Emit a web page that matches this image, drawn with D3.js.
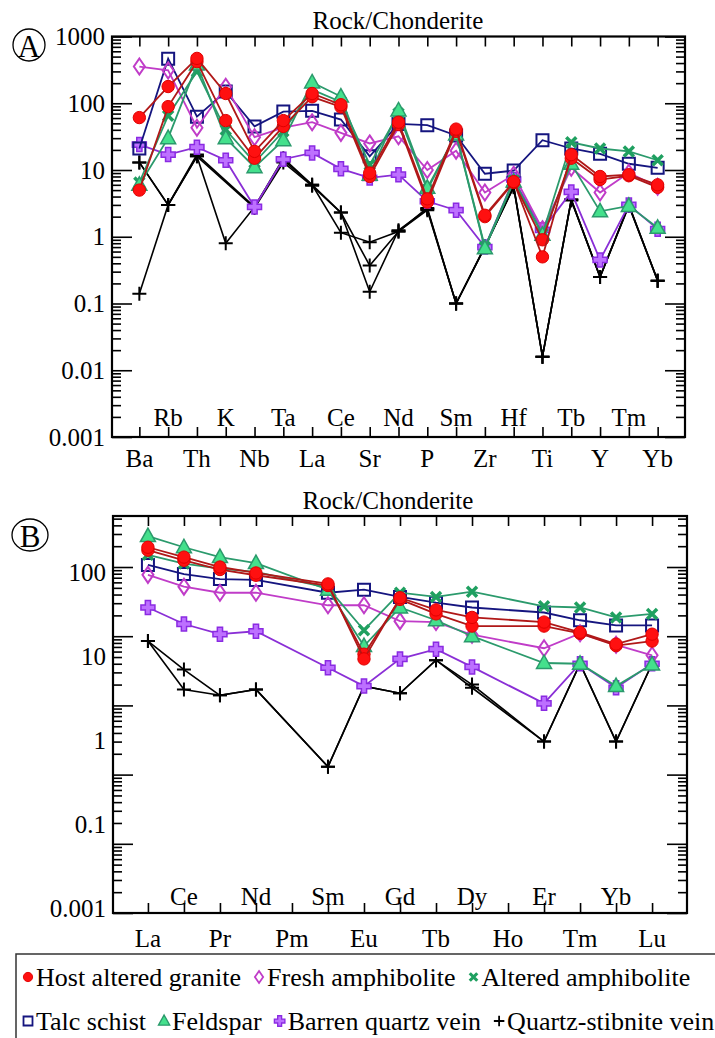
<!DOCTYPE html>
<html>
<head>
<meta charset="utf-8">
<script src="https://cdn.jsdelivr.net/npm/d3@7"></script>
<style>
  body { margin: 0; background: #fff; }
  svg, svg text { font-family: "Liberation Serif", "Times New Roman", Times, "Nimbus Roman", "DejaVu Serif", serif !important; }
</style>
</head>
<body>
<svg id="chart" width="715" height="1038" font-family="Liberation Serif, Times New Roman, serif"></svg>
<script>
// ---- categories -------------------------------------------------------
const elementsA = ["Ba","Rb","Th","K","Nb","Ta","La","Ce","Sr","Nd","P","Sm","Zr","Hf","Ti","Tb","Y","Tm","Yb"];
const elementsB = ["La","Ce","Pr","Nd","Pm","Sm","Eu","Gd","Tb","Dy","Ho","Er","Tm","Yb","Lu"];

const seriesNames = ["Host altered granite","Fresh amphibolite","Altered amphibolite",
                     "Talc schist","Feldspar","Barren quartz vein","Quartz-stibnite vein"];

// ---- tick labels ------------------------------------------------------
const yTickLabelsA = ["1000","100","10","1","0.1","0.01","0.001"];
const yTickLabelsB = ["100","10","1","0.1","0.001"];
const panelTitle = "Rock/Chonderite";

// ---- multi-element (spider) values, normalised to chondrite -----------
const hostGraniteA1 = [61, 178, 470, 140, 19, 55, 140, 95, 9, 52, 3.7, 41, 2.1, 6.7, 0.5, 17, 8, 8.5, 6];
const hostGraniteA2 = [5, 89, 420, 55, 15, 45, 125, 88, 8, 48, 3.3, 38, 2.0, 6.5, 0.9, 15, 7.2, 8.2, 5.5];
const freshAmphA    = [355, 310, 43, 177, 31, 43, 52, 36, 25, 32, 10, 19.5, 4.6, 8.5, 1.3, 10.8, 4.6, 9.1, 5.6];
const alteredAmphA  = [6.5, 65, 300, 40, 13, 38, 160, 105, 12, 70, 5, 35, 0.7, 7, 1.1, 26, 21, 19, 14];
const talcSchistA   = [21, 466, 63, 150, 45, 75, 77, 57, 16, 49, 47, 33, 8.8, 9.8, 28, 21, 17.5, 12.4, 10.8];
const feldsparA     = [6, 30, 380, 30, 11, 28, 205, 126, 8.5, 78, 5.4, 34, 0.67, 6.7, 1.07, 12.4, 2.4, 2.9, 1.36];
const barrenVeinA   = [24, 17, 22, 14, 2.8, 14.5, 18, 10.4, 7.6, 8.5, 3.4, 2.5, 0.7, 7.2, 1.27, 4.7, 0.45, 3, 1.3];
const stibniteA1    = [13, 3, 16, 0.8, 2.8, 15, 6, 1.15, 0.83, 1.2, 2.7, 0.1, 0.7, 5.6, 0.016, 3.6, 0.25, 3, 0.22];
const stibniteA2    = [0.14, 3, 17, null, 2.8, 14, 6, 2.3, 0.37, 1.2, 2.5, 0.1, 0.7, 5.8, 0.016, 3.5, 0.25, 2.9, 0.22];
const stibniteA3    = [13, 3, 16, null, 2.7, 13, 5.8, 2.3, 0.15, 1.25, 2.6, 0.1, 0.72, 5.5, 0.016, 3.6, 0.25, 3, 0.22];

// ---- REE values, normalised to chondrite (Pm, Ho not analysed) -------
const hostGraniteB1 = [193, 139, 100, 82, null, 57, 4.7, 36, 24, 18.7, null, 16, 11.4, 7.7, 10.7];
const hostGraniteB2 = [175, 125, 92, 76, null, 54, 5.5, 34, 21, 14, null, 14, 11, 7.3, 8.5];
const freshAmphB    = [77, 52, 42.5, 42.5, null, 28, 28, 16.5, 16, 10.5, null, 6.7, 11, 7.5, 5.3];
const alteredAmphB  = [150, 112, 95, 85, null, 50, 12.2, 42.5, 37, 44, null, 27, 26, 18.7, 21];
const talcSchistB   = [107, 79, 67, 65, null, 42.5, 47, 37, 30.5, 26, null, 22, 17, 14.3, 14.3];
const feldsparB     = [280, 193, 139, 114, null, 47, 7.2, 26, 17, 10, null, 4.1, 4, 1.9, 3.9];
const barrenVeinB   = [26, 15, 10.7, 11.8, null, 3.5, 1.9, 4.7, 6.5, 3.6, null, 1.07, 4, 1.8, 4];
const stibniteB1    = [8.5, 3.3, 1.4, 1.7, null, 0.13, 1.9, 1.5, 4.5, 2.0, null, 0.3, 4, 0.3, 4];
const stibniteB2    = [8.5, 1.7, 1.4, 1.7, null, 0.13, 1.9, 1.5, 4.5, 1.8, null, 0.3, 4, 0.3, 4];

// ---- sample lists (drawing order: first is underneath) ---------------
const samplesA = [
  { series: 6, values: stibniteA1 }, { series: 6, values: stibniteA2 }, { series: 6, values: stibniteA3 },
  { series: 5, values: barrenVeinA }, { series: 3, values: talcSchistA }, { series: 1, values: freshAmphA },
  { series: 2, values: alteredAmphA }, { series: 4, values: feldsparA },
  { series: 0, values: hostGraniteA2 }, { series: 0, values: hostGraniteA1 }
];
const samplesB = [
  { series: 6, values: stibniteB1 }, { series: 6, values: stibniteB2 },
  { series: 5, values: barrenVeinB }, { series: 3, values: talcSchistB }, { series: 1, values: freshAmphB },
  { series: 2, values: alteredAmphB }, { series: 4, values: feldsparB },
  { series: 0, values: hostGraniteB2 }, { series: 0, values: hostGraniteB1 }
];

// ---- symbol styles per rock type --------------------------------------
const styles = [
  { line: "#b01818", shape: "circle",   fill: "#ff1010", stroke: "#e00000", sw: 1 },
  { line: "#c03cc8", shape: "diamond",  fill: "none",    stroke: "#c03cc8", sw: 2 },
  { line: "#2b9a6c", shape: "x",        fill: "none",    stroke: "#1fa060", sw: 3.5 },
  { line: "#15157f", shape: "square",   fill: "none",    stroke: "#15157f", sw: 2 },
  { line: "#2b9a6c", shape: "triangle", fill: "#44e08c", stroke: "#2b9a6c", sw: 1.5 },
  { line: "#8a2fd6", shape: "cross",    fill: "#bd70ff", stroke: "#8a2be2", sw: 1.5 },
  { line: "#000000", shape: "plus",     fill: "none",    stroke: "#000000", sw: 2 }
];

const FONT = "Liberation Serif, Times New Roman, serif";

function markerPath(shape, k) {
  const s = v => (v * k).toFixed(2);
  switch (shape) {
    case "circle":   return d3.symbol(d3.symbolCircle, 120 * k * k)();
    case "square":   return `M${s(-6)},${s(-6)}H${s(6)}V${s(6)}H${s(-6)}Z`;
    case "diamond":  return `M0,${s(-8)}L${s(5.5)},0L0,${s(8)}L${s(-5.5)},0Z`;
    case "triangle": return `M0,${s(-8)}L${s(7.5)},${s(5.5)}L${s(-7.5)},${s(5.5)}Z`;
    case "x":        return `M${s(-5)},${s(-5)}L${s(5)},${s(5)}M${s(5)},${s(-5)}L${s(-5)},${s(5)}`;
    case "cross":    return `M${s(-2.6)},${s(-7)}H${s(2.6)}V${s(-2.6)}H${s(7)}V${s(2.6)}H${s(2.6)}V${s(7)}H${s(-2.6)}V${s(2.6)}H${s(-7)}V${s(-2.6)}H${s(-2.6)}Z`;
    case "plus":     return `M${s(-7)},0H${s(7)}M0,${s(-7)}V${s(7)}`;
  }
}

const svg = d3.select("#chart");
svg.append("rect").attr("width", 715).attr("height", 1038).attr("fill", "#fff");

function decadeTicks(lo, hi) {
  const major = [], minor = [];
  for (let e = -3; e <= 3; e++) {
    const base = Math.pow(10, e);
    if (base >= lo * 0.999 && base <= hi * 1.001) major.push(base);
    for (let m = 2; m <= 9; m++) {
      const v = m * base;
      if (v > lo && v < hi) minor.push(v);
    }
  }
  return { major, minor };
}

function drawPanel(cfg) {
  const g = svg.append("g");
  const x = d3.scalePoint().domain(cfg.elements).range([cfg.left, cfg.right]).padding(cfg.pad);
  const y = d3.scaleLog().domain(cfg.yDomain).range([cfg.bottom, cfg.top]);
  const { major, minor } = decadeTicks(cfg.yDomain[0], cfg.yDomain[1]);
  const H = cfg.bottom - cfg.top, W = cfg.right - cfg.left;

  const tidy = sel => sel.call(a => a.select(".domain").remove())
                        .call(a => a.selectAll("line").attr("stroke", "#000").attr("stroke-width", 1.6));

  // left / right axes, ticks pointing inward
  g.append("g").attr("transform", `translate(${cfg.left},0)`)
    .call(d3.axisLeft(y).tickValues(minor).tickSize(-9).tickFormat("")).call(tidy);
  g.append("g").attr("transform", `translate(${cfg.left},0)`)
    .call(d3.axisLeft(y).tickValues(major).tickSize(-20).tickFormat("")).call(tidy);
  g.append("g").attr("transform", `translate(${cfg.right},0)`)
    .call(d3.axisRight(y).tickValues(minor).tickSize(-9).tickFormat("")).call(tidy);
  g.append("g").attr("transform", `translate(${cfg.right},0)`)
    .call(d3.axisRight(y).tickValues(major).tickSize(-20).tickFormat("")).call(tidy);

  // top / bottom ticks at every element
  g.append("g").attr("transform", `translate(0,${cfg.top})`)
    .call(d3.axisTop(x).tickSize(-10).tickFormat("")).call(tidy);
  g.append("g").attr("transform", `translate(0,${cfg.bottom})`)
    .call(d3.axisBottom(x).tickSize(-10).tickFormat("")).call(tidy);

  // y-axis labels
  const yl = g.append("g").attr("transform", `translate(${cfg.left},0)`);
  if (cfg.labelScale) {
    yl.call(d3.axisLeft(cfg.labelScale).tickSize(0).tickPadding(cfg.labelPad));
  } else {
    yl.call(d3.axisLeft(y).tickValues(cfg.yLabels.map(Number)).tickSize(0).tickPadding(cfg.labelPad)
              .tickFormat((d, i) => cfg.yLabels[i]));
  }
  yl.attr("font-family", FONT).attr("font-size", 25);
  yl.select(".domain").remove();
  yl.selectAll("text").attr("font-size", 25).attr("font-family", FONT).attr("fill", "#000");

  // element labels, alternating inside / below the frame
  g.append("g").attr("font-family", FONT).selectAll("text").data(cfg.elements).join("text")
    .attr("x", d => x(d))
    .attr("y", (d, i) => i % 2 === 0 ? cfg.bottom + cfg.below : cfg.bottom - cfg.inside)
    .attr("text-anchor", "middle").attr("dominant-baseline", "central")
    .attr("font-size", 25).text(d => d);

  // title and panel letter
  g.append("text").attr("x", cfg.titleX).attr("y", cfg.titleY).attr("font-family", FONT)
    .attr("text-anchor", "middle").attr("dominant-baseline", "central")
    .attr("font-size", 25).text(panelTitle);
  g.append("ellipse").attr("cx", cfg.letterX).attr("cy", cfg.letterY)
    .attr("rx", cfg.letterRx).attr("ry", cfg.letterRy)
    .attr("fill", "none").attr("stroke", "#000").attr("stroke-width", 1.3);
  g.append("text").attr("x", cfg.letterX).attr("y", cfg.letterY + 1).attr("font-family", FONT)
    .attr("text-anchor", "middle").attr("dominant-baseline", "central")
    .attr("font-size", 31).text(cfg.letter);

  // data
  const plot = g.append("g");
  const line = d3.line().x(d => x(d.el)).y(d => y(d.v));
  cfg.samples.forEach(s => {
    const st = styles[s.series];
    const pts = cfg.elements.map((el, i) => ({ el, v: s.values[i] })).filter(d => d.v != null);
    plot.append("path").attr("d", line(pts)).attr("fill", "none")
      .attr("stroke", st.line).attr("stroke-width", s.series === 6 ? 1.6 : 1.8);
    plot.append("g").selectAll("path").data(pts).join("path")
      .attr("transform", d => `translate(${x(d.el)},${y(d.v)})`)
      .attr("d", markerPath(st.shape, 1))
      .attr("fill", st.fill).attr("stroke", st.stroke).attr("stroke-width", st.sw);
  });

  // frame
  g.append("rect").attr("x", cfg.left).attr("y", cfg.top).attr("width", W).attr("height", H)
    .attr("fill", "none").attr("stroke", "#000").attr("stroke-width", 2.2);
}

drawPanel({
  elements: elementsA, samples: samplesA, yDomain: [0.001, 1000], yLabels: yTickLabelsA,
  left: 112, right: 685, top: 36.5, bottom: 437, pad: 0.95, labelPad: 7,
  inside: 20, below: 21, titleX: 398, titleY: 20,
  letter: "A", letterX: 29, letterY: 45, letterRx: 16, letterRy: 16
});

drawPanel({
  elements: elementsB, samples: samplesB, yDomain: [0.001, 546],
  labelScale: d3.scalePoint().domain(yTickLabelsB).range([572, 908]),
  left: 113, right: 687, top: 516, bottom: 913, pad: 0.97, labelPad: 7,
  inside: 17, below: 25, titleX: 388, titleY: 500,
  letter: "B", letterX: 30, letterY: 535, letterRx: 18, letterRy: 16
});

// ---- legend -----------------------------------------------------------
const legend = svg.append("g").attr("font-family", FONT);
legend.append("rect").attr("x", 16).attr("y", 954).attr("width", 720).attr("height", 120)
  .attr("fill", "#fff").attr("stroke", "#333").attr("stroke-width", 1.5);
const legendRows = [[0, 1, 2], [3, 4, 5, 6]];
const rowY = [977, 1021];
legendRows.forEach((row, r) => {
  let cx = 22;
  row.forEach(si => {
    const st = styles[si];
    legend.append("path").attr("transform", `translate(${cx + 6},${rowY[r]})`)
      .attr("d", markerPath(st.shape, 0.75))
      .attr("fill", st.fill).attr("stroke", st.stroke).attr("stroke-width", st.sw * 0.9);
    const t = legend.append("text").attr("x", cx + 14).attr("y", rowY[r]).attr("font-family", FONT)
      .attr("dominant-baseline", "central").attr("font-size", 26).text(seriesNames[si]);
    cx += 14 + t.node().getComputedTextLength() + 12;
  });
});
</script>
</body>
</html>
